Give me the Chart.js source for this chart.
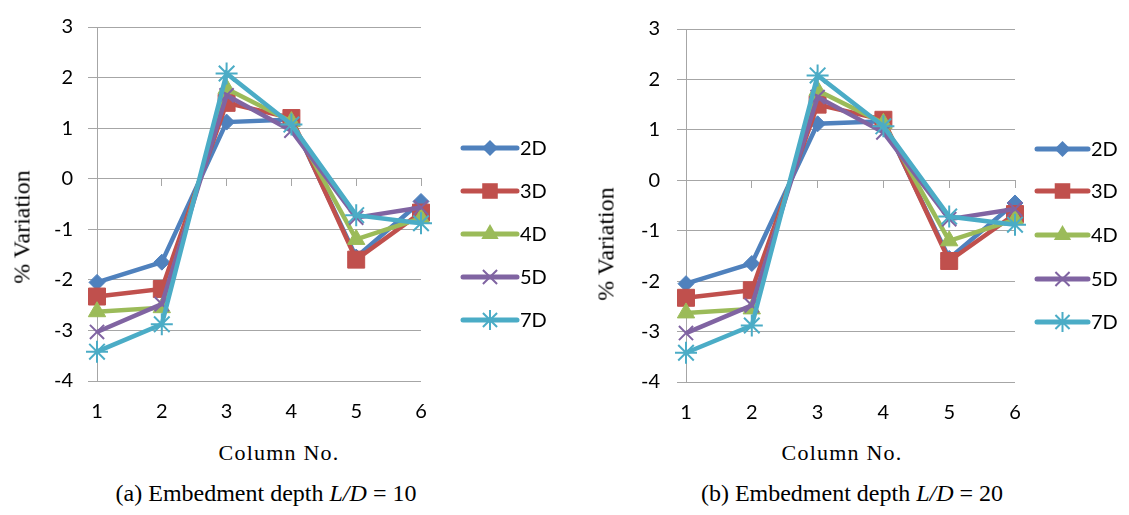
<!DOCTYPE html>
<html><head><meta charset="utf-8">
<script src="https://cdn.jsdelivr.net/npm/chart.js@4.4.1/dist/chart.umd.min.js"></script>
<style>
body{margin:0;width:1129px;height:515px;background:#fff;position:relative;overflow:hidden;font-family:'Liberation Serif','Times New Roman',serif;color:#000;}
canvas{position:absolute;top:0;}
.t{position:absolute;white-space:nowrap;transform:translate(-50%,-50%);}
.v{position:absolute;white-space:nowrap;transform:translate(-50%,-50%) rotate(-90deg);}
</style></head><body>
<canvas id="ca" width="560" height="430" style="left:0"></canvas>
<canvas id="cb" width="549" height="430" style="left:580px"></canvas>
<div class="v" style="left:22px;top:227px;font-size:24px">% Variation</div>
<div class="v" style="left:606px;top:244px;font-size:24px">% Variation</div>
<div class="t" style="left:279px;top:453px;font-size:22px;letter-spacing:1.2px">Column No.</div>
<div class="t" style="left:842px;top:453px;font-size:22px;letter-spacing:1.2px">Column No.</div>
<div class="t" style="left:266px;top:493px;font-size:24px">(a) Embedment depth <i>L/D</i> = 10</div>
<div class="t" style="left:852px;top:493px;font-size:24px">(b) Embedment depth <i>L/D</i> = 20</div>
<script>
// ---- data ----
const categories = ['1','2','3','4','5','6'];
const seriesNames = ['2D','3D','4D','5D','7D'];
const yTicks = [-4,-3,-2,-1,0,1,2,3];
// chart (a) L/D = 10
const a2D = [-2.05,-1.65,1.12,1.17,-1.55,-0.45];
const a3D = [-2.33,-2.18,1.50,1.20,-1.60,-0.67];
const a4D = [-2.63,-2.55,1.78,1.13,-1.20,-0.78];
const a5D = [-3.03,-2.48,1.65,0.95,-0.77,-0.57];
const a7D = [-3.42,-2.88,2.08,1.07,-0.72,-0.88];
// chart (b) L/D = 20
const b2D = [-2.05,-1.65,1.12,1.17,-1.55,-0.45];
const b3D = [-2.33,-2.18,1.50,1.20,-1.60,-0.67];
const b4D = [-2.63,-2.55,1.78,1.13,-1.20,-0.78];
const b5D = [-3.03,-2.48,1.65,0.95,-0.77,-0.57];
const b7D = [-3.42,-2.88,2.08,1.07,-0.72,-0.88];

const colors = ['#4F81BD','#C0504D','#9BBB59','#8064A2','#4BACC6'];
const styles = ['rectRot','rect','triangle','crossRot','star'];
const radii = [8,12,10,10,11];
const GRID = '#a6a6a6';
const TICKFONT = {family:"Lato, 'Liberation Sans', sans-serif", size:20};

function marker(ctx, style, x, y, r, color){
  ctx.save();
  ctx.fillStyle=color; ctx.strokeStyle=color; ctx.lineWidth=2;
  ctx.beginPath();
  if(style==='rectRot'){ctx.moveTo(x,y-r);ctx.lineTo(x+r,y);ctx.lineTo(x,y+r);ctx.lineTo(x-r,y);ctx.closePath();ctx.fill();}
  else if(style==='rect'){const s=r*Math.SQRT1_2;ctx.rect(x-s,y-s,2*s,2*s);ctx.fill();}
  else if(style==='triangle'){let a=0;ctx.moveTo(x+Math.sin(a)*r,y-Math.cos(a)*r);a+=2*Math.PI/3;ctx.lineTo(x+Math.sin(a)*r,y-Math.cos(a)*r);a+=2*Math.PI/3;ctx.lineTo(x+Math.sin(a)*r,y-Math.cos(a)*r);ctx.closePath();ctx.fill();}
  else if(style==='crossRot'){const o=r*Math.SQRT1_2;ctx.moveTo(x-o,y-o);ctx.lineTo(x+o,y+o);ctx.moveTo(x-o,y+o);ctx.lineTo(x+o,y-o);ctx.stroke();}
  else if(style==='star'){const o=r*Math.SQRT1_2;ctx.moveTo(x-o,y-o);ctx.lineTo(x+o,y+o);ctx.moveTo(x-o,y+o);ctx.lineTo(x+o,y-o);ctx.moveTo(x,y-r);ctx.lineTo(x,y+r);ctx.stroke();}
  ctx.restore();
}

function makeChart(id, series, geo){
  const datasets = series.map((d,i)=>({
    label: seriesNames[i], data: d,
    borderColor: colors[i], backgroundColor: colors[i],
    borderWidth: 4.5, tension: 0,
    pointStyle: styles[i], pointRadius: radii[i],
    pointBorderColor: colors[i], pointBackgroundColor: colors[i],
    pointBorderWidth: (i>=3)?2:1,
    order: 5-i
  }));
  const legendPlugin = {
    id:'customLegend',
    afterDraw(chart){
      const ctx = chart.ctx;
      chart.data.datasets.forEach((ds,i)=>{
        const y = geo.legendY[i];
        ctx.save();
        ctx.strokeStyle = ds.borderColor; ctx.lineWidth = 5; ctx.lineCap='round';
        ctx.beginPath(); ctx.moveTo(geo.lx0,y); ctx.lineTo(geo.lx1,y); ctx.stroke();
        ctx.restore();
        marker(ctx, styles[i], (geo.lx0+geo.lx1)/2, y, [8,11,10,10,10][i], ds.borderColor);
        ctx.save();
        ctx.fillStyle='#000'; ctx.font="20px Lato, 'Liberation Sans', sans-serif";
        ctx.textAlign='left'; ctx.textBaseline='middle';
        ctx.fillText(ds.label, geo.lx1+3, y+1);
        ctx.restore();
      });
    }
  };
  return new Chart(document.getElementById(id), {
    type:'line',
    data:{labels:categories, datasets},
    options:{
      responsive:false, animation:false, devicePixelRatio:1,
      layout:{padding:{top:geo.top,right:geo.right,left:0,bottom:0}},
      plugins:{legend:{display:false},tooltip:{enabled:false}},
      scales:{
        x:{type:'category', offset:false,
          grid:{display:false,drawTicks:false}, border:{display:false},
          ticks:{color:'#000',font:TICKFONT,padding:19,maxRotation:0},
          afterFit(s){s.height = 430-geo.bottom;}
        },
        x2:{type:'category', offset:false, position:{y:0},
          grid:{drawOnChartArea:false,drawTicks:true,tickLength:7,color:GRID,lineWidth:1},
          border:{display:true,color:GRID,width:1},
          ticks:{display:false}
        },
        y:{type:'linear', min:-4, max:3,
          afterBuildTicks(s){s.ticks = yTicks.map(v=>({value:v}));},
          grid:{color:GRID,lineWidth:1,tickLength:9,drawTicks:true},
          border:{display:true,color:GRID,width:1},
          ticks:{color:'#000',font:TICKFONT,padding:geo.lpad},
          afterFit(s){s.width = geo.left;}
        }
      }
    },
    plugins:[legendPlugin]
  });
}

makeChart('ca',[a2D,a3D,a4D,a5D,a7D],{left:97,right:139,top:15,bottom:381,lpad:15,lx0:463,lx1:517,legendY:[148,191,234,277,320]});
makeChart('cb',[b2D,b3D,b4D,b5D,b7D],{left:106,right:114,top:16,bottom:382,lpad:17,lx0:457,lx1:508,legendY:[149,191,235,279,322]});
</script>
</body></html>
